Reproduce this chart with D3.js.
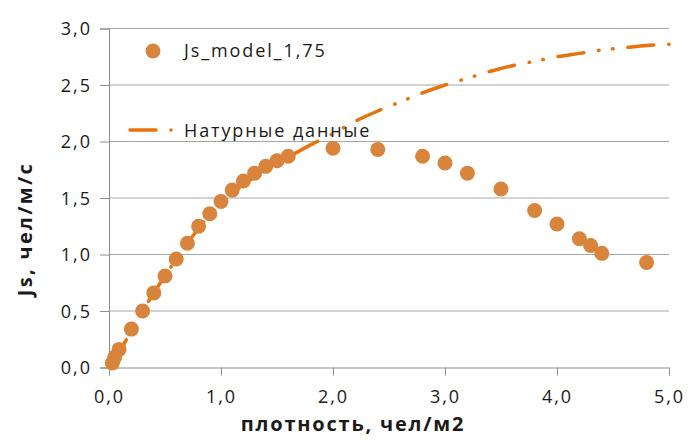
<!DOCTYPE html>
<html>
<head>
<meta charset="utf-8">
<script src="https://cdn.jsdelivr.net/npm/d3@7"></script>
<style>
  body { margin: 0; background: #fff; }
  text { font-family: "Open Sans", "Noto Sans", sans-serif; fill: #1a1a1a; }
</style>
</head>
<body>
<script>
// model points (Js_model_1,75)
var modelX = [0.03, 0.05, 0.09, 0.2, 0.3, 0.4, 0.5, 0.6, 0.7, 0.8, 0.9, 1.0, 1.1, 1.2, 1.3, 1.4, 1.5, 1.6,
              2.0, 2.4, 2.8, 3.0, 3.2, 3.5, 3.8, 4.0, 4.2, 4.3, 4.4, 4.8];
var modelY = [0.04, 0.09, 0.16, 0.34, 0.5, 0.66, 0.81, 0.96, 1.1, 1.25, 1.36, 1.47, 1.57, 1.65, 1.72, 1.78, 1.83, 1.87,
              1.94, 1.93, 1.87, 1.81, 1.72, 1.58, 1.39, 1.27, 1.14, 1.08, 1.01, 0.93];

// field data (Натурные данные)
var fieldX = [0.03, 0.1, 0.2, 0.3, 0.4, 0.5, 0.6, 0.7, 0.8, 0.9, 1.0, 1.2, 1.4, 1.6, 1.8, 2.0, 2.2, 2.4,
              2.6, 2.8, 3.0, 3.2, 3.4, 3.6, 3.8, 4.0, 4.2, 4.4, 4.6, 4.8, 5.0];
var fieldY = [0.05, 0.15, 0.33, 0.5, 0.66, 0.81, 0.96, 1.1, 1.23, 1.35, 1.45, 1.62, 1.74, 1.86, 1.97, 2.07, 2.18, 2.27,
              2.35, 2.43, 2.5, 2.56, 2.62, 2.67, 2.71, 2.75, 2.78, 2.81, 2.83, 2.85, 2.86];

var xTicks = [0, 1, 2, 3, 4, 5];
var yTicks = [0, 0.5, 1, 1.5, 2, 2.5, 3];

var width = 688, height = 441;
var plotLeft = 109, plotRight = 669, plotTop = 28.5, plotBottom = 367.5;

var ptColor = "#d9843c", lineColor = "#e8720c";
var fmt = function(d) { return d3.format(".1f")(d).replace(".", ","); };

var svg = d3.select("body").append("svg")
    .attr("width", width)
    .attr("height", height);

var x = d3.scaleLinear().domain([0, 5]).range([plotLeft, plotRight]);
var y = d3.scaleLinear().domain([0, 3]).range([plotBottom, plotTop]);

// horizontal gridlines
svg.append("g")
    .selectAll("line")
    .data(yTicks.slice(1))
    .enter()
    .append("line")
      .attr("x1", plotLeft).attr("x2", plotRight)
      .attr("y1", function(d) { return y(d); })
      .attr("y2", function(d) { return y(d); })
      .style("stroke", "#a6a6a6")
      .style("stroke-width", 1);

// y axis
var yAxis = svg.append("g")
    .attr("transform", "translate(" + plotLeft + ",0)")
    .call(d3.axisLeft(y).tickValues(yTicks).tickFormat(fmt).tickSize(9).tickPadding(8));
yAxis.select(".domain").style("stroke", "#8c8c8c");
yAxis.selectAll(".tick line").style("stroke", "#8c8c8c");
yAxis.selectAll(".tick text").style("font-size", "18px").style("letter-spacing", "2px")
    .attr("dy", "0.35em");

// x axis
var xAxis = svg.append("g")
    .attr("transform", "translate(0," + plotBottom + ")")
    .call(d3.axisBottom(x).tickValues(xTicks).tickFormat(fmt).tickSize(8).tickPadding(15));
xAxis.select(".domain").style("stroke", "#8c8c8c");
xAxis.selectAll(".tick line").style("stroke", "#8c8c8c");
xAxis.selectAll(".tick text").style("font-size", "18px").style("letter-spacing", "2px");
xAxis.attr("font-family", null);
yAxis.attr("font-family", null);

// field data line
var line = d3.line()
    .x(function(d) { return x(d[0]); })
    .y(function(d) { return y(d[1]); })
    .curve(d3.curveMonotoneX);

var dashes = "26 15 0.5 13.5 0.5 15";

svg.append("path")
    .datum(d3.zip(fieldX, fieldY))
    .attr("d", line)
    .style("fill", "none")
    .style("stroke", lineColor)
    .style("stroke-width", 3.5)
    .style("stroke-linecap", "round")
    .style("stroke-dasharray", dashes);

// model points
svg.append("g")
    .selectAll("circle")
    .data(d3.zip(modelX, modelY))
    .enter()
    .append("circle")
      .attr("cx", function(d) { return x(d[0]); })
      .attr("cy", function(d) { return y(d[1]); })
      .attr("r", 7.5)
      .style("fill", ptColor);

// legend
svg.append("circle")
    .attr("cx", 153).attr("cy", 51).attr("r", 7.5)
    .style("fill", ptColor);
svg.append("text")
    .attr("x", 184).attr("y", 57)
    .style("font-size", "18px")
    .style("letter-spacing", "1.9px")
    .text("Js_model_1,75");

svg.append("line")
    .attr("x1", 130).attr("x2", 156).attr("y1", 130).attr("y2", 130)
    .style("stroke", lineColor).style("stroke-width", 3.5).style("stroke-linecap", "round");
svg.append("circle")
    .attr("cx", 171).attr("cy", 130).attr("r", 1.8)
    .style("fill", lineColor);
svg.append("text")
    .attr("x", 184).attr("y", 137)
    .style("font-size", "18px")
    .style("letter-spacing", "1.9px")
    .text("Натурные данные");

// axis titles
svg.append("text")
    .attr("transform", "translate(32,229) rotate(-90)")
    .attr("text-anchor", "middle")
    .style("font-size", "20px")
    .style("font-weight", "bold")
    .style("letter-spacing", "2.3px")
    .text("Js, чел/м/с");

svg.append("text")
    .attr("x", 353).attr("y", 431)
    .attr("text-anchor", "middle")
    .style("font-size", "20px")
    .style("font-weight", "bold")
    .style("letter-spacing", "1.8px")
    .text("плотность, чел/м2");
</script>
</body>
</html>
